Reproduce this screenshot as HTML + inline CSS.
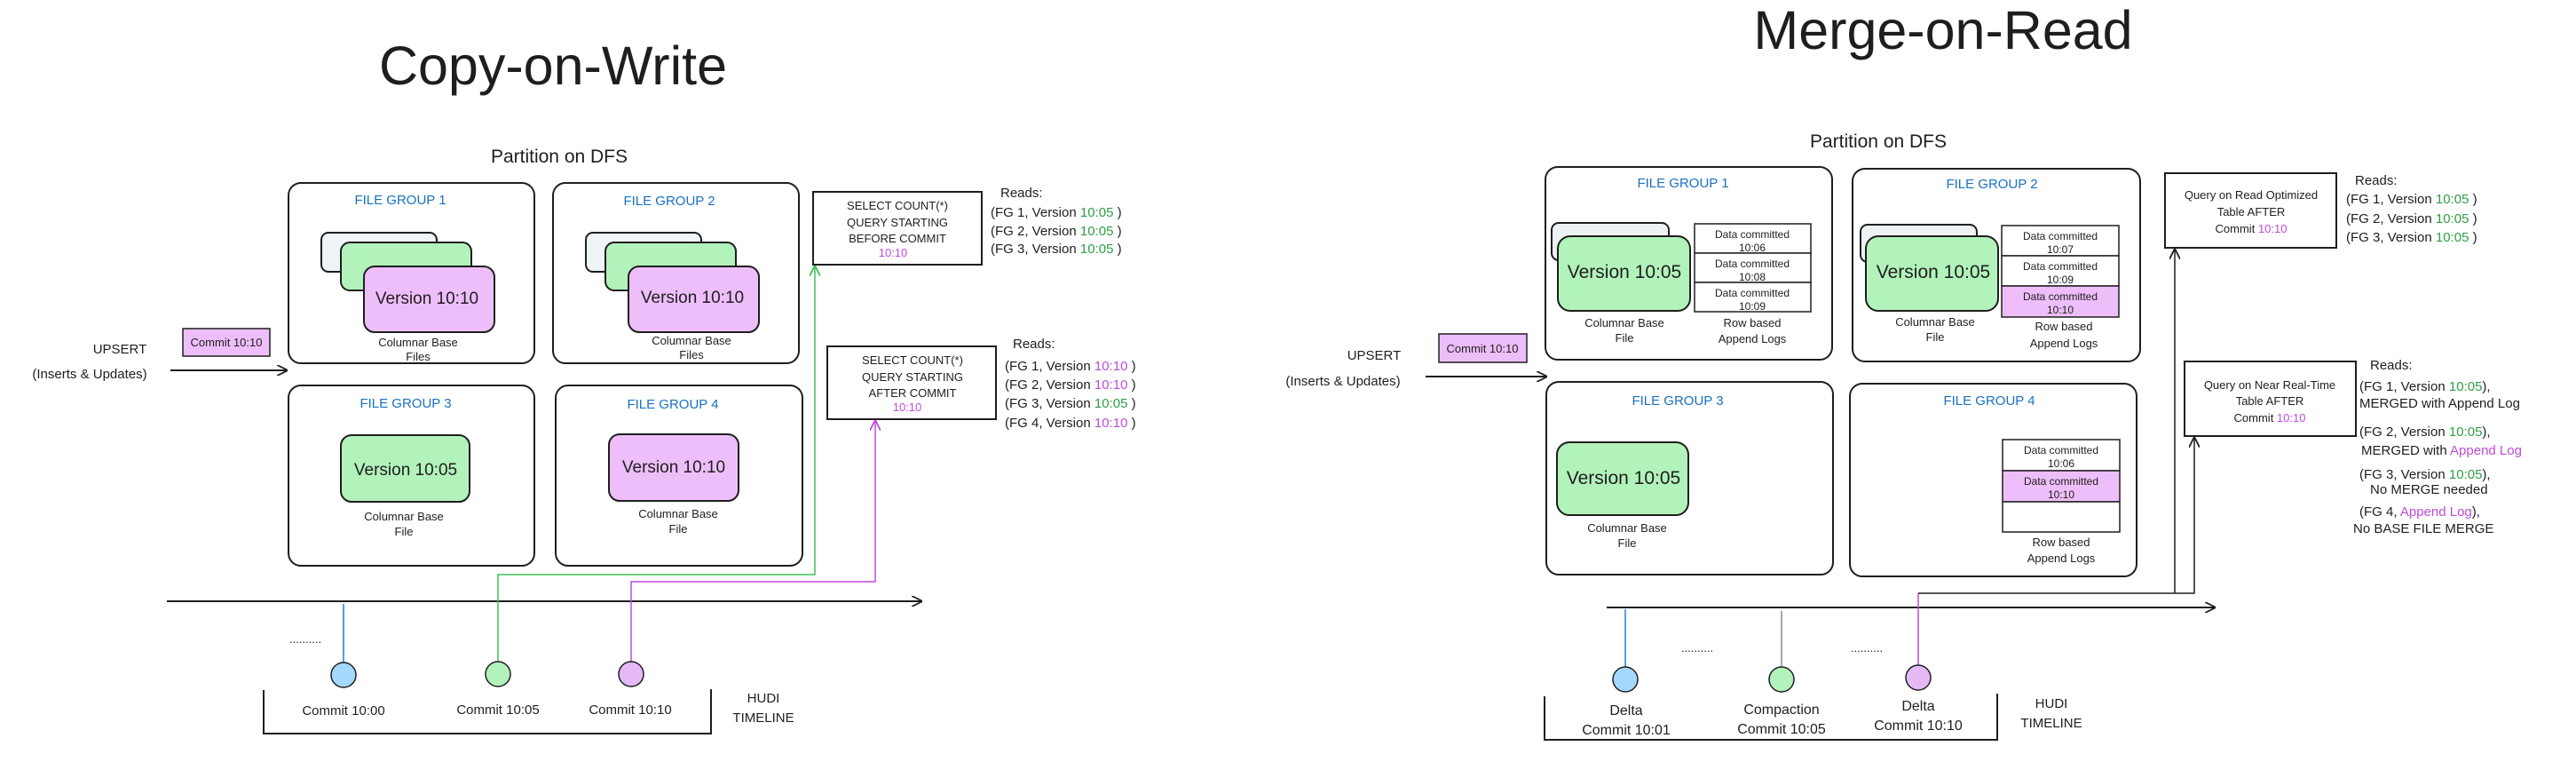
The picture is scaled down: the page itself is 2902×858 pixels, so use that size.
<!DOCTYPE html>
<html><head><meta charset="utf-8"><style>
html,body{margin:0;padding:0;background:#fff;}
svg{display:block;font-family:"Liberation Sans",sans-serif;}
.t{fill:#1e1e1e;text-anchor:middle;}
.s{font-size:13px;}
.m{font-size:15px;}
.fg{fill:#1971c2;font-size:15px;text-anchor:middle;}
.g{fill:#2f9e44;}
.p{fill:#be4bdb;}
.box{fill:#fff;stroke:#1e1e1e;stroke-width:2;}
.ln{fill:none;stroke:#1e1e1e;stroke-width:2;}
</style></head><body>
<svg width="2902" height="858" viewBox="0 0 2902 858" xmlns="http://www.w3.org/2000/svg">
<defs>
<marker id="ahb" viewBox="0 0 10 10" refX="9" refY="5" markerWidth="12" markerHeight="12" orient="auto" markerUnits="userSpaceOnUse"><path d="M0,0 L10,5 L0,10" fill="none" stroke="#1e1e1e" stroke-width="1.5"/></marker>
<marker id="ahg" viewBox="0 0 10 10" refX="9" refY="5" markerWidth="12" markerHeight="12" orient="auto" markerUnits="userSpaceOnUse"><path d="M0,0 L10,5 L0,10" fill="none" stroke="#40c057" stroke-width="1.5"/></marker>
<marker id="ahp" viewBox="0 0 10 10" refX="9" refY="5" markerWidth="12" markerHeight="12" orient="auto" markerUnits="userSpaceOnUse"><path d="M0,0 L10,5 L0,10" fill="none" stroke="#be4bdb" stroke-width="1.5"/></marker>
</defs>

<!-- ============ COPY ON WRITE ============ -->
<text x="623" y="95" class="t" style="font-size:61px">Copy-on-Write</text>
<text x="630" y="183" class="t" style="font-size:21px">Partition on DFS</text>

<rect x="325" y="206" width="277" height="203" rx="14" class="box"/>
<rect x="623" y="206" width="277" height="203" rx="14" class="box"/>
<rect x="325" y="434" width="277" height="203" rx="14" class="box"/>
<rect x="626" y="434" width="278" height="203" rx="14" class="box"/>
<text x="451" y="230" class="fg">FILE GROUP 1</text>
<text x="754" y="231" class="fg">FILE GROUP 2</text>
<text x="457" y="459" class="fg">FILE GROUP 3</text>
<text x="758" y="460" class="fg">FILE GROUP 4</text>

<rect x="362" y="262" width="130" height="44" rx="8" fill="#eef4f8" stroke="#1e1e1e" stroke-width="2"/>
<rect x="384" y="273" width="147" height="54" rx="10" fill="#b2f2bb" stroke="#1e1e1e" stroke-width="2"/>
<rect x="410" y="300" width="147" height="74" rx="12" fill="#eebefa" stroke="#1e1e1e" stroke-width="2"/>
<text x="481" y="342" class="t" style="font-size:19px">Version 10:10</text>
<text x="471" y="390" class="t s">Columnar Base</text>
<text x="471" y="406" class="t s">Files</text>
<rect x="660" y="262" width="130" height="44" rx="8" fill="#eef4f8" stroke="#1e1e1e" stroke-width="2"/>
<rect x="682" y="273" width="147" height="54" rx="10" fill="#b2f2bb" stroke="#1e1e1e" stroke-width="2"/>
<rect x="708" y="300" width="147" height="74" rx="12" fill="#eebefa" stroke="#1e1e1e" stroke-width="2"/>
<text x="780" y="341" class="t" style="font-size:19px">Version 10:10</text>
<text x="779" y="388" class="t s">Columnar Base</text>
<text x="779" y="404" class="t s">Files</text>
<rect x="384" y="490" width="145" height="75" rx="12" fill="#b2f2bb" stroke="#1e1e1e" stroke-width="2"/>
<text x="457" y="535" class="t" style="font-size:19px">Version 10:05</text>
<text x="455" y="586" class="t s">Columnar Base</text>
<text x="455" y="603" class="t s">File</text>
<rect x="686" y="489" width="146" height="75" rx="12" fill="#eebefa" stroke="#1e1e1e" stroke-width="2"/>
<text x="759" y="532" class="t" style="font-size:19px">Version 10:10</text>
<text x="764" y="583" class="t s">Columnar Base</text>
<text x="764" y="600" class="t s">File</text>

<rect x="206" y="370" width="98" height="31" fill="#eebefa" stroke="#1e1e1e" stroke-width="1.5"/>
<text x="255" y="390" class="t s">Commit 10:10</text>
<text x="135" y="398" class="t m">UPSERT</text>
<text x="101" y="426" class="t m">(Inserts &amp; Updates)</text>
<line x1="192" y1="417" x2="323" y2="417" class="ln" stroke-width="1.5" marker-end="url(#ahb)"/>

<rect x="916" y="216" width="190" height="82" class="box" stroke-width="1.5"/>
<text x="1011" y="236" class="t s">SELECT COUNT(*)</text>
<text x="1011" y="255" class="t s">QUERY STARTING</text>
<text x="1011" y="273" class="t s">BEFORE COMMIT</text>
<text x="1006" y="289" class="p s" text-anchor="middle">10:10</text>
<rect x="932" y="390" width="190" height="82" class="box" stroke-width="1.5"/>
<text x="1028" y="410" class="t s">SELECT COUNT(*)</text>
<text x="1028" y="429" class="t s">QUERY STARTING</text>
<text x="1028" y="447" class="t s">AFTER COMMIT</text>
<text x="1022" y="463" class="p s" text-anchor="middle">10:10</text>

<g class="m" fill="#1e1e1e">
<text x="1127" y="222">Reads:</text>
<text x="1116" y="244">(FG 1, Version <tspan class="g">10:05</tspan> )</text>
<text x="1116" y="265">(FG 2, Version <tspan class="g">10:05</tspan> )</text>
<text x="1116" y="285">(FG 3, Version <tspan class="g">10:05</tspan> )</text>
<text x="1141" y="392">Reads:</text>
<text x="1132" y="417">(FG 1, Version <tspan class="p">10:10</tspan> )</text>
<text x="1132" y="438">(FG 2, Version <tspan class="p">10:10</tspan> )</text>
<text x="1132" y="459">(FG 3, Version <tspan class="g">10:05</tspan> )</text>
<text x="1132" y="481">(FG 4, Version <tspan class="p">10:10</tspan> )</text>
</g>

<line x1="188" y1="677" x2="1038" y2="677" class="ln" marker-end="url(#ahb)"/>
<text x="344" y="724" class="t s">..........</text>
<line x1="387" y1="680" x2="387" y2="746" stroke="#1c7ed6" stroke-width="1.5"/>
<polyline points="561,746 561,647 918,647 918,300" fill="none" stroke="#40c057" stroke-width="1.5" marker-end="url(#ahg)"/>
<polyline points="711,746 711,655 986,655 986,474" fill="none" stroke="#be4bdb" stroke-width="1.5" marker-end="url(#ahp)"/>
<circle cx="387" cy="760" r="14" fill="#a5d8ff" stroke="#1e1e1e" stroke-width="1.5"/>
<circle cx="561" cy="759" r="14" fill="#b2f2bb" stroke="#1e1e1e" stroke-width="1.5"/>
<circle cx="711" cy="759" r="14" fill="#e5b9f5" stroke="#1e1e1e" stroke-width="1.5"/>
<polyline points="297,777 297,826 801,826 801,776" class="ln" stroke-width="1.5"/>
<text x="387" y="805" class="t m">Commit 10:00</text>
<text x="561" y="804" class="t m">Commit 10:05</text>
<text x="710" y="804" class="t m">Commit 10:10</text>
<text x="860" y="791" class="t m">HUDI</text>
<text x="860" y="813" class="t m">TIMELINE</text>

<!-- ============ MERGE ON READ ============ -->
<text x="2189" y="55" class="t" style="font-size:61px">Merge-on-Read</text>
<text x="2116" y="166" class="t" style="font-size:21px">Partition on DFS</text>

<rect x="1741" y="188" width="323" height="217" rx="14" class="box"/>
<rect x="2087" y="190" width="324" height="217" rx="14" class="box"/>
<rect x="1742" y="430" width="323" height="217" rx="14" class="box"/>
<rect x="2084" y="432" width="323" height="217" rx="14" class="box"/>
<text x="1896" y="211" class="fg">FILE GROUP 1</text>
<text x="2244" y="212" class="fg">FILE GROUP 2</text>
<text x="1890" y="456" class="fg">FILE GROUP 3</text>
<text x="2241" y="456" class="fg">FILE GROUP 4</text>

<rect x="1748" y="251" width="132" height="42" rx="8" fill="#eef1f4" stroke="#1e1e1e" stroke-width="2"/>
<rect x="1755" y="266" width="149" height="84" rx="14" fill="#b2f2bb" stroke="#1e1e1e" stroke-width="2"/>
<text x="1830" y="313" class="t" style="font-size:21px">Version 10:05</text>
<g stroke="#1e1e1e" stroke-width="1.5">
<rect x="1909" y="252" width="131" height="33" fill="#fff"/>
<rect x="1909" y="285" width="131" height="33" fill="#fff"/>
<rect x="1909" y="318" width="131" height="33" fill="#fff"/>
</g>
<g class="t" style="font-size:12px">
<text x="1974" y="268">Data committed</text><text x="1974" y="283">10:06</text>
<text x="1974" y="301">Data committed</text><text x="1974" y="316">10:08</text>
<text x="1974" y="334">Data committed</text><text x="1974" y="349">10:09</text>
</g>
<text x="1830" y="368" class="t s">Columnar Base</text>
<text x="1830" y="385" class="t s">File</text>
<text x="1974" y="368" class="t s">Row based</text>
<text x="1974" y="386" class="t s">Append Logs</text>

<rect x="2096" y="253" width="131" height="42" rx="8" fill="#eef1f4" stroke="#1e1e1e" stroke-width="2"/>
<rect x="2102" y="266" width="149" height="84" rx="14" fill="#b2f2bb" stroke="#1e1e1e" stroke-width="2"/>
<text x="2178" y="313" class="t" style="font-size:21px">Version 10:05</text>
<g stroke="#1e1e1e" stroke-width="1.5">
<rect x="2255" y="254" width="132" height="34" fill="#fff"/>
<rect x="2255" y="288" width="132" height="34" fill="#fff"/>
<rect x="2255" y="322" width="132" height="35" fill="#eebefa"/>
</g>
<g class="t" style="font-size:12px">
<text x="2321" y="270">Data committed</text><text x="2321" y="285">10:07</text>
<text x="2321" y="304">Data committed</text><text x="2321" y="319">10:09</text>
<text x="2321" y="338">Data committed</text><text x="2321" y="353">10:10</text>
</g>
<text x="2180" y="367" class="t s">Columnar Base</text>
<text x="2180" y="384" class="t s">File</text>
<text x="2325" y="372" class="t s">Row based</text>
<text x="2325" y="391" class="t s">Append Logs</text>

<rect x="1754" y="498" width="148" height="82" rx="14" fill="#b2f2bb" stroke="#1e1e1e" stroke-width="2"/>
<text x="1829" y="545" class="t" style="font-size:21px">Version 10:05</text>
<text x="1833" y="599" class="t s">Columnar Base</text>
<text x="1833" y="616" class="t s">File</text>

<g stroke="#1e1e1e" stroke-width="1.5">
<rect x="2256" y="495" width="132" height="35" fill="#fff"/>
<rect x="2256" y="530" width="132" height="35" fill="#eebefa"/>
<rect x="2256" y="565" width="132" height="34" fill="#fff"/>
</g>
<g class="t" style="font-size:12px">
<text x="2322" y="511">Data committed</text><text x="2322" y="526">10:06</text>
<text x="2322" y="546">Data committed</text><text x="2322" y="561">10:10</text>
</g>
<text x="2322" y="615" class="t s">Row based</text>
<text x="2322" y="633" class="t s">Append Logs</text>

<rect x="1621" y="376" width="99" height="32" fill="#eebefa" stroke="#1e1e1e" stroke-width="1.5"/>
<text x="1670" y="397" class="t s">Commit 10:10</text>
<text x="1548" y="405" class="t m">UPSERT</text>
<text x="1513" y="434" class="t m">(Inserts &amp; Updates)</text>
<line x1="1606" y1="424" x2="1742" y2="424" class="ln" stroke-width="1.5" marker-end="url(#ahb)"/>

<rect x="2439" y="195" width="193" height="84" class="box" stroke-width="1.5"/>
<text x="2536" y="224" class="t s">Query on Read Optimized</text>
<text x="2536" y="243" class="t s">Table AFTER</text>
<text x="2536" y="262" class="t s">Commit <tspan class="p">10:10</tspan></text>
<rect x="2461" y="407" width="193" height="84" class="box" stroke-width="1.5"/>
<text x="2557" y="438" class="t s">Query on Near Real-Time</text>
<text x="2557" y="456" class="t s">Table AFTER</text>
<text x="2557" y="475" class="t s">Commit <tspan class="p">10:10</tspan></text>

<g class="m" fill="#1e1e1e">
<text x="2653" y="208">Reads:</text>
<text x="2643" y="229">(FG 1, Version <tspan class="g">10:05</tspan> )</text>
<text x="2643" y="251">(FG 2, Version <tspan class="g">10:05</tspan> )</text>
<text x="2643" y="272">(FG 3, Version <tspan class="g">10:05</tspan> )</text>
<text x="2670" y="416">Reads:</text>
<text x="2658" y="440">(FG 1, Version <tspan class="g">10:05</tspan>),</text>
<text x="2658" y="459">MERGED with Append Log</text>
<text x="2658" y="491">(FG 2, Version <tspan class="g">10:05</tspan>),</text>
<text x="2660" y="512">MERGED with <tspan class="p">Append Log</tspan></text>
<text x="2658" y="539">(FG 3, Version <tspan class="g">10:05</tspan>),</text>
<text x="2670" y="556">No MERGE needed</text>
<text x="2658" y="581">(FG 4, <tspan class="p">Append Log</tspan>),</text>
<text x="2651" y="600">No BASE FILE MERGE</text>
</g>

<line x1="1810" y1="684" x2="2495" y2="684" class="ln" marker-end="url(#ahb)"/>
<text x="1912" y="734" class="t s">..........</text>
<text x="2103" y="734" class="t s">..........</text>
<line x1="1831" y1="686" x2="1831" y2="751" stroke="#1c7ed6" stroke-width="1.5"/>
<line x1="2007" y1="688" x2="2007" y2="751" stroke="#868e96" stroke-width="1.5"/>
<line x1="2161" y1="668" x2="2161" y2="749" stroke="#be4bdb" stroke-width="1.5"/>
<polyline points="2161,668 2472,668 2472,493" fill="none" stroke="#1e1e1e" stroke-width="1.5" marker-end="url(#ahb)"/>
<polyline points="2450,668 2450,281" fill="none" stroke="#1e1e1e" stroke-width="1.5" marker-end="url(#ahb)"/>
<circle cx="1831" cy="765" r="14" fill="#a5d8ff" stroke="#1e1e1e" stroke-width="1.5"/>
<circle cx="2007" cy="765" r="14" fill="#b2f2bb" stroke="#1e1e1e" stroke-width="1.5"/>
<circle cx="2161" cy="763" r="14" fill="#e5b9f5" stroke="#1e1e1e" stroke-width="1.5"/>
<polyline points="1740,784 1740,833 2250,833 2250,781" class="ln" stroke-width="1.5"/>
<text x="1832" y="805" class="t" style="font-size:16px">Delta</text>
<text x="1832" y="827" class="t" style="font-size:16px">Commit 10:01</text>
<text x="2007" y="804" class="t" style="font-size:16px">Compaction</text>
<text x="2007" y="826" class="t" style="font-size:16px">Commit 10:05</text>
<text x="2161" y="800" class="t" style="font-size:16px">Delta</text>
<text x="2161" y="822" class="t" style="font-size:16px">Commit 10:10</text>
<text x="2311" y="797" class="t m">HUDI</text>
<text x="2311" y="819" class="t m">TIMELINE</text>
</svg>
</body></html>
